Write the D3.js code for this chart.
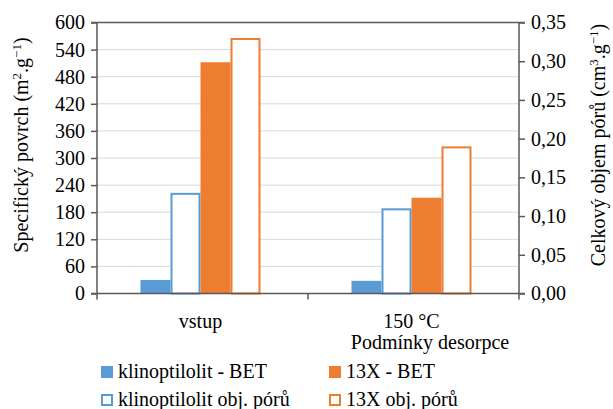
<!DOCTYPE html>
<html>
<head>
<meta charset="utf-8">
<script src="https://cdn.jsdelivr.net/npm/d3@7/dist/d3.min.js"></script>
<style>
  body { margin: 0; background: #fff; }
</style>
</head>
<body>
<svg id="chart" width="613" height="409"></svg>
<script>
const categories = ["vstup", "150 °C"];
const klinoBET = [30, 28];
const x13BET = [512, 212];
const klinoPore = [0.13, 0.11];
const x13Pore = [0.33, 0.19];
const leftTicks = [0, 60, 120, 180, 240, 300, 360, 420, 480, 540, 600];
const rightTicks = [0, 0.05, 0.10, 0.15, 0.20, 0.25, 0.30, 0.35];
const seriesNames = ["klinoptilolit - BET", "13X - BET", "klinoptilolit obj. pórů", "13X obj. pórů"];

const W = 613, H = 409;
const margin = {left: 97, right: 94, top: 22.5, bottom: 115.5};
const blue = "#5b9bd5", orange = "#ed7d31", axisCol = "#595959", gridCol = "#d9d9d9";
const FONT = "'Liberation Serif', serif";
const FS = "20px";

const svg = d3.select("#chart");

const x = d3.scaleBand().domain(categories).range([margin.left, W - margin.right]);
const yL = d3.scaleLinear().domain([0, 600]).range([H - margin.bottom, margin.top]);
const yR = d3.scaleLinear().domain([0, 0.35]).range([H - margin.bottom, margin.top]);

const barW = 30;
const sub = d3.scaleBand().domain([0, 1, 2, 3]).range([-2 * barW, 2 * barW]);
const groupShift = -2;

// gridlines
svg.append("g").selectAll("line").data(leftTicks.slice(1, -1)).join("line")
  .attr("x1", margin.left).attr("x2", W - margin.right)
  .attr("y1", d => yL(d)).attr("y2", d => yL(d))
  .attr("stroke", gridCol).attr("stroke-width", 1);

// bars
const bars = [];
categories.forEach((c, i) => {
  bars.push({c, k: 0, y: yL(klinoBET[i]), fill: blue, stroke: "none"});
  bars.push({c, k: 1, y: yR(klinoPore[i]), fill: "#fff", stroke: blue});
  bars.push({c, k: 2, y: yL(x13BET[i]), fill: orange, stroke: "none"});
  bars.push({c, k: 3, y: yR(x13Pore[i]), fill: "#fff", stroke: orange});
});
const base = H - margin.bottom;
svg.append("g").selectAll("rect").data(bars).join("rect")
  .attr("x", d => x(d.c) + x.bandwidth() / 2 + groupShift + sub(d.k) + (d.stroke === "none" ? 0 : 1))
  .attr("y", d => d.y + (d.stroke === "none" ? 0 : 1))
  .attr("width", d => barW - (d.stroke === "none" ? 0 : 2))
  .attr("height", d => base - d.y - (d.stroke === "none" ? 0 : 1))
  .attr("fill", d => d.fill)
  .attr("stroke", d => d.stroke)
  .attr("stroke-width", 2);

// axes
const axL = svg.append("g").attr("transform", `translate(${margin.left},0)`)
  .call(d3.axisLeft(yL).tickValues(leftTicks).tickSize(6).tickPadding(6));
const axR = svg.append("g").attr("transform", `translate(${W - margin.right},0)`)
  .call(d3.axisRight(yR).tickValues(rightTicks).tickSize(6).tickPadding(6)
    .tickFormat(d => d3.format(".2f")(d).replace(".", ",")));
[axL, axR].forEach(a => {
  a.attr("font-family", null).attr("font-size", null);
  a.select(".domain").remove();
  a.selectAll("line").attr("stroke", axisCol).attr("stroke-width", 1.5);
  a.selectAll("text").style("font-family", FONT).style("font-size", FS).attr("fill", "#000");
});
svg.append("line").attr("x1", margin.left).attr("x2", margin.left)
  .attr("y1", margin.top).attr("y2", base).attr("stroke", axisCol).attr("stroke-width", 1.5);
svg.append("line").attr("x1", W - margin.right).attr("x2", W - margin.right)
  .attr("y1", margin.top).attr("y2", base).attr("stroke", axisCol).attr("stroke-width", 1.5);
svg.append("line").attr("x1", margin.left - 6).attr("x2", W - margin.right + 6)
  .attr("y1", margin.top).attr("y2", margin.top).attr("stroke", axisCol).attr("stroke-width", 1.5);
svg.append("line").attr("x1", margin.left - 6).attr("x2", W - margin.right + 6)
  .attr("y1", base).attr("y2", base).attr("stroke", axisCol).attr("stroke-width", 1.5);

// x ticks at band edges
const edges = [x(categories[0]), x(categories[1]), x(categories[1]) + x.bandwidth()];
svg.append("g").selectAll("line").data(edges).join("line")
  .attr("x1", d => d).attr("x2", d => d).attr("y1", base).attr("y2", base + 6)
  .attr("stroke", axisCol).attr("stroke-width", 1.5);

// x labels
svg.append("g").selectAll("text").data(categories).join("text")
  .attr("x", d => x(d) + x.bandwidth() / 2 + groupShift).attr("y", base + 34)
  .attr("text-anchor", "middle").style("font-family", FONT).style("font-size", FS).text(d => d);
svg.append("text").attr("x", 430).attr("y", base + 55).attr("text-anchor", "middle")
  .style("font-family", FONT).style("font-size", FS).text("Podmínky desorpce");

// axis titles
function axisTitle(tx, main, sup) {
  const t = svg.append("text").attr("transform", `translate(${tx},145) rotate(-90)`)
    .attr("text-anchor", "middle").style("font-family", FONT).style("font-size", FS);
  t.append("tspan").text(main);
  t.append("tspan").attr("dy", -7).style("font-size", "13px").text(sup);
  t.append("tspan").attr("dy", 7).text(".g");
  t.append("tspan").attr("dy", -7).style("font-size", "13px").text("−1");
  t.append("tspan").attr("dy", 7).text(")");
}
axisTitle(28, "Specifický povrch (m", "2");
axisTitle(605, "Celkový objem pórů (cm", "3");

// legend
const legend = [
  {name: seriesNames[0], fill: blue, stroke: "none", lx: 101, ly: 372},
  {name: seriesNames[1], fill: orange, stroke: "none", lx: 329, ly: 372},
  {name: seriesNames[2], fill: "#fff", stroke: blue, lx: 101, ly: 400},
  {name: seriesNames[3], fill: "#fff", stroke: orange, lx: 329, ly: 400}
];
const lg = svg.append("g").selectAll("g").data(legend).join("g")
  .attr("transform", d => `translate(${d.lx},${d.ly})`);
lg.append("rect")
  .attr("x", d => d.stroke === "none" ? 0 : 1).attr("y", d => d.stroke === "none" ? -6 : -5)
  .attr("width", d => d.stroke === "none" ? 12 : 10).attr("height", d => d.stroke === "none" ? 12 : 10)
  .attr("fill", d => d.fill).attr("stroke", d => d.stroke).attr("stroke-width", 2);
lg.append("text").attr("x", 17).attr("y", 6).style("font-family", FONT).style("font-size", FS)
  .text(d => d.name);
</script>
</body>
</html>
